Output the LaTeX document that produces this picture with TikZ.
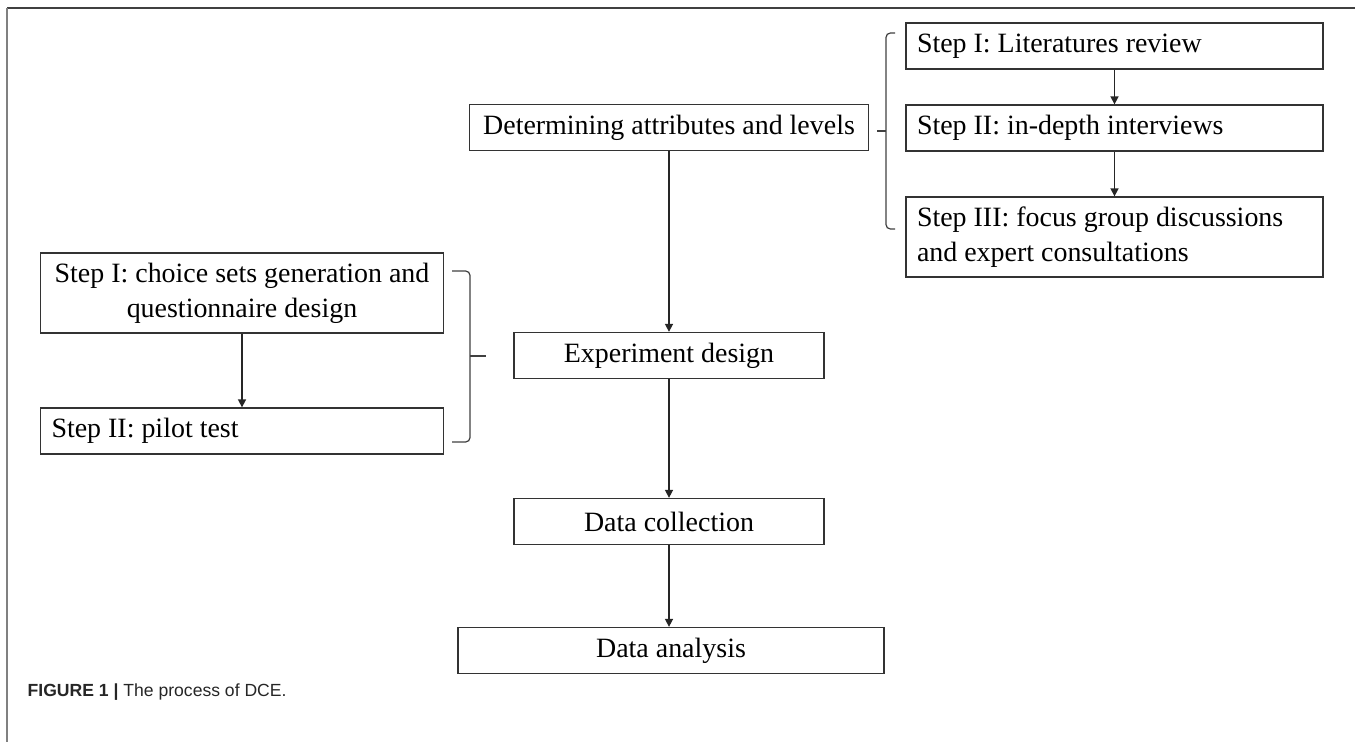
\documentclass[tikz,border=0pt]{standalone}
\usepackage{fontspec}
\setmainfont{Liberation Serif}
\newfontfamily\capfont{Liberation Sans}
\usetikzlibrary{arrows.meta, positioning}

\begin{document}
\begin{tikzpicture}[>=Triangle, line width=0.8pt,
      box/.style={draw=black!80, line width=0.8pt, minimum height=0.92cm,
                  inner xsep=0.22cm, inner ysep=0pt,
                  font=\fontsize{15.9}{19.8}\selectfont},
      mainbox/.style={box, align=center},
      leftbox/.style={box, align=flush left, text width=#1},
      flow/.style={-{Triangle[length=4.5pt, width=4.6pt]}, line width=0.7pt, black!85},
      brk/.style={line width=0.7pt, black!75, rounded corners=2.5pt},
      frame/.style={line width=1.1pt}]

    \useasboundingbox (0,0) rectangle (27.1,-14.84);

    % figure frame
    \draw[frame, black!75] (0.14,-0.16) -- (27.1,-0.16);
    \draw[frame, black!50] (0.14,-0.16) -- (0.14,-14.84);

    % main column
    \node[mainbox, minimum width=7.98cm] (attr) at (13.38,-2.55) {Determining attributes and levels};
    \node[mainbox, minimum width=6.20cm] (expd) at (13.38,-7.11) {Experiment design};
    \node[mainbox, minimum width=6.20cm] (coll) at (13.38,-10.43) {Data collection};
    \node[mainbox, minimum width=8.52cm] (anal) at (13.42,-13.01) {Data analysis};

    % steps for attributes and levels
    \node[leftbox=7.9cm] (lit)   at (22.29,-0.92) {Step I: Literatures review};
    \node[leftbox=7.9cm] (intv)  at (22.29,-2.56) {Step II: in-depth interviews};
    \node[leftbox=7.9cm, minimum height=1.6cm] (focus) at (22.29,-4.74)
      {Step III: focus group discussions\\and expert consultations};

    % steps for experiment design
    \node[mainbox, minimum width=8.06cm, minimum height=1.6cm] (chs) at (4.84,-5.86)
      {Step I: choice sets generation and\\questionnaire design};
    \node[leftbox=7.62cm] (pilot) at (4.84,-8.62) {Step II: pilot test};

    % arrows
    \draw[flow] (attr.south) -- (attr.south |- expd.north);
    \draw[flow] (expd.south) -- (expd.south |- coll.north);
    \draw[flow] (coll.south) -- (coll.south |- anal.north);
    \draw[flow] (lit) -- (intv);
    \draw[flow] (intv) -- (focus);
    \draw[flow] (chs.south) -- (chs.south |- pilot.north);

    % brackets
    \draw[brk] (17.90,-0.66) -| (17.72,-4.58) -- (17.90,-4.58);
    \draw[brk] (17.72,-2.62) -- (17.54,-2.62);
    \draw[brk] (9.04,-5.42) -| (9.40,-8.84) -- (9.04,-8.84);
    \draw[brk] (9.40,-7.12) -- (9.72,-7.12);

    % caption
    \node[anchor=base west, inner sep=0pt, text=black!85,
          font=\capfont\fontsize{10}{12}\selectfont] (cap) at (0.54,-13.92)
      {\textbf{FIGURE 1 |} The process of DCE.};

\end{tikzpicture}
\end{document}
